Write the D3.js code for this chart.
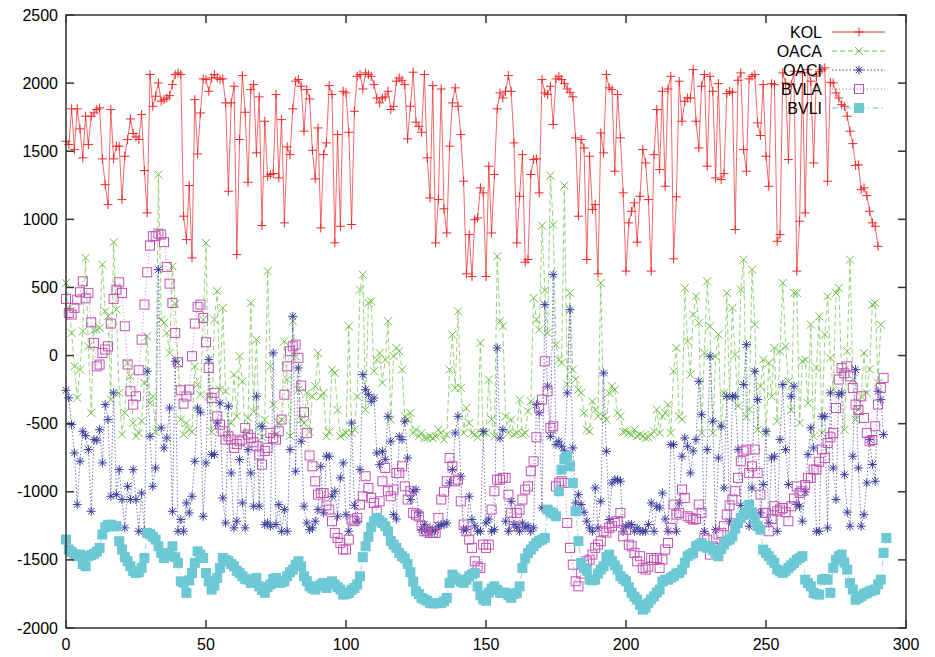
<!DOCTYPE html>
<html>
  <head>
    <meta charset="utf-8">
    <title>Visualization</title>
    <style>
      body { margin: 0; background: #fff; }
      text { font-family: "Liberation Sans", Arial, sans-serif; fill: #000; }
    </style>
  </head>
  <body>
    <div id="chart"></div>
    <script src="https://d3js.org/d3.v7.min.js"></script>
    <script>

      // values, one per x step (x = index)
      var kol = [1573,1549,1811,1512,1811,1664,1451,1757,1549,1757,1781,1806,1818,1444,1255,1108,1806,1444,1537,1537,1145,1463,1586,1737,1630,1605,1586,1769,1358,1047,2063,1830,1904,2001,1867,1879,1891,1908,1989,2063,2075,2063,1023,851,1248,717,1879,1480,1781,
                 2031,2026,1940,2038,2063,2038,2026,2031,1855,1206,1855,1977,741,1586,2055,1786,1272,1952,1989,1488,1899,954,1720,1316,1329,1336,1916,1304,1732,974,1532,1475,1811,2014,2026,1977,1647,1952,1884,1507,1297,1671,937,1475,1561,1982,1916,827,1622,949,1940,1928,1639,
                 962,1793,2050,2063,1957,2075,2063,2050,1989,1891,1855,1891,1899,1940,1806,1830,2014,2038,2021,1989,1591,1830,2080,1713,1683,1639,2063,1451,1157,1982,827,1145,1957,1077,900,1537,1855,1965,1830,1622,1280,600,888,580,998,
                 1010,1231,1194,580,1390,900,1329,1811,1928,1891,1940,2055,1940,1561,827,1169,1475,685,705,1329,1439,1444,1194,2026,1928,1916,1977,1696,2031,2050,2026,1996,1957,1933,1899,1598,1023,1586,1524,705,1463,1072,1108,600,1634,1488,2063,1965,1952,1353,1916,1598,1194,
                 620,974,1059,1121,832,1169,1512,1414,1145,620,1475,1806,1365,1940,1243,1957,2050,710,1165,2014,1720,1867,1891,1891,2099,1720,1524,1977,2063,1390,2050,1940,1304,1996,1292,1336,1923,1940,1933,925,2021,2075,1512,1353,2031,2050,2063,1708,1615,
                 1989,1463,1243,1996,1989,839,888,2075,2001,1439,1989,2087,620,986,2075,1047,2099,2014,1414,2050,2087,2099,2112,1280,2006,2001,1928,1891,1842,1830,1757,1647,1556,1395,1400,1218,1231,1174,1059,974,949,802];

      var oaca = [533,350,166,-79,-311,-103,178,717,68,-421,190,190,203,668,325,288,-323,832,337,-274,-580,-420,-54,-152,-495,-593,-568,-480,-201,142,-350,-299,-560,1329,264,240,166,19,655,380,-54,-470,-580,-495,-544,-560,-79,-213,-287,264,827,
                  -300,-560,264,472,-250,350,-262,-580,-495,-140,-446,-5,-189,-580,-458,386,-409,117,-519,-600,-470,619,-79,-360,-580,-495,-470,105,-176,-590,252,-5,-250,-470,-495,-274,-560,-299,-225,19,-299,-274,-593,-560,-103,-128,-400,-593,-580,
                  -568,215,-568,-544,-300,484,594,-397,386,398,-115,-30,19,-200,-30,252,-470,-5,56,32,-103,-446,-470,-421,-568,-544,-593,-568,-605,-605,-593,-605,-593,-544,-568,-617,-580,-103,154,-238,325,-238,-568,-385,-495,-568,-580,-600,93,-568,
                  -568,-176,-470,-593,729,252,215,-446,-568,-470,-580,-568,-323,-580,-568,-409,-336,423,264,190,954,479,166,1321,960,80,-30,-54,1248,-213,460,-103,-176,-250,-274,-421,-544,-556,-336,-397,-446,533,-446,-470,-274,-225,-250,-421,-446,-560,
                  -556,-568,-580,-544,-590,-580,-593,-605,-600,-580,-556,-397,-568,-446,-421,-360,-568,-115,56,-446,-470,496,105,-140,301,435,240,-568,19,545,215,-568,-5,154,-500,-274,460,-311,350,7,-372,484,704,-450,-397,631,227,-544,-225,-30,
                  -568,-54,-300,56,-482,32,533,68,-189,-400,460,460,-495,-42,-30,-350,227,-593,-91,288,-568,154,435,-17,-250,460,496,-115,-544,32,704,-176,-470,-397,-300,19,-274,-100,374,386,-200,227];

      var oaci = [-255,-311,-507,-715,-1094,-776,-556,-588,-690,-1143,-617,-622,-544,-788,-360,-470,-1033,-274,-1021,-837,-1057,-1265,-960,-1057,-837,-1057,-1290,-1009,-1290,-115,-593,-960,-825,631,-531,-678,-605,-385,-1143,-42,-1290,-1204,-1290,-1082,-1155,-1033,-776,-385,-416,-1180,-788,
                  -30,-727,-727,-495,-348,-1045,-1229,-372,-862,-1265,-1216,-764,-1082,-1265,-690,-862,-1106,-299,-1106,-519,-1241,-1229,-1253,19,-1241,-1094,-1290,-1131,-1290,-690,288,-849,-91,-629,-1106,-1229,-1278,-1265,-1216,-1131,-813,-1155,-739,-739,-1033,-996,-1180,-898,-788,
                  -1168,-1290,-495,-1100,-1216,-837,-140,-250,-287,-336,-311,-715,-801,-703,-764,-446,-629,-1168,-1200,-593,-617,-482,-752,-1057,-996,-984,-1155,-1278,-1241,-1290,-1265,-1290,-1278,-1253,-1241,-1241,-1229,-935,-837,-568,-446,-886,-1278,-1278,-1033,-1204,-1250,-1290,-1290,-556,
                  -1229,-1200,-1290,-1278,56,-605,-544,-1216,-1290,-1070,-1241,-1260,-1290,-1229,-1265,-1250,-1290,-1265,-360,-421,-1119,374,-225,-593,594,-654,-629,-666,-700,-274,337,-678,-1082,-1021,-1094,-1150,-1216,-1265,-1290,-972,-1265,-1070,-128,-703,-1204,-935,-911,-911,-923,-1290,
                  -1253,-1241,-1241,-1290,-1265,-1290,-1290,-1290,-1241,-1082,-1290,-1106,-1119,-1009,-1200,-1290,-654,-654,-1290,-1082,-739,-605,-666,-862,-700,-617,-189,-434,-1290,-690,-5,-482,-1278,-752,-519,-972,-299,-1216,-299,-299,-690,-1100,-213,80,-1253,-972,-115,-323,-1155,-947,
                  -556,-1229,-752,-739,-1290,-617,-213,-690,-947,-299,-225,-1094,-1106,-1216,-1000,-727,-531,-678,-1290,-1290,-446,-446,-1265,-274,-825,-1057,-287,-274,-874,-1150,-1253,-739,-103,-825,-1253,-1168,-935,-617,-800,-923,-262,-323,-580];

      var bvla = [416,313,301,350,411,465,545,420,460,244,93,-79,-66,19,44,68,235,416,484,538,460,215,-66,-262,-360,-299,-108,117,374,611,807,876,876,895,888,832,651,528,386,166,-49,-255,-353,-300,-250,-5,235,357,374,276,98,
                  -91,-311,-274,-446,-507,-556,-617,-593,-617,-678,-650,-629,-617,-531,-580,-605,-637,-666,-727,-801,-700,-678,-568,-605,-617,-556,-470,-287,-79,32,68,80,-17,-221,-416,-568,-734,-813,-923,-1021,-1009,-1009,-1100,-1131,-1216,-1302,-1339,-1376,-1424,
                  -1424,-1351,-1204,-1216,-1192,-1094,-1033,-886,-972,-1045,-1082,-1143,-1070,-923,-825,-996,-1033,-984,-862,-862,-813,-960,-1057,-996,-1155,-1168,-1180,-1250,-1290,-1290,-1302,-1300,-1302,-1192,-1057,-1000,-923,-752,-813,-923,-911,-1070,-1241,-1290,-1351,-1412,-1510,-1547,-1559,-1388,
                  -1412,-1388,-1131,-996,-911,-911,-898,-898,-1021,-1155,-1253,-1155,-1131,-1057,-984,-960,-849,-776,-600,-385,-323,-42,-262,-531,-519,-960,-935,-923,-935,-1229,-1412,-1535,-1657,-1694,-1600,-1535,-1510,-1498,-1461,-1412,-1388,-1363,-1290,-1300,-1265,-1253,-1229,-1216,-1155,-1327,
                  -1278,-1388,-1400,-1449,-1510,-1473,-1559,-1571,-1550,-1486,-1500,-1486,-1559,-1498,-1424,-1376,-1265,-1094,-1168,-1155,-984,-1045,-1180,-1192,-1204,-1200,-1094,-1155,-1339,-1351,-1461,-1400,-1412,-1314,-1302,-1253,-1168,-1100,-1057,-996,-898,-776,-703,-690,-862,-813,-690,-862,-1021,-1155,
                  -1155,-1290,-1200,-1106,-1143,-1131,-1119,-1150,-1216,-1106,-1050,-960,-1009,-996,-950,-898,-898,-837,-837,-780,-690,-752,-642,-600,-568,-385,-176,-91,-130,-79,-152,-238,-360,-400,-299,-458,-568,-629,-620,-519,-360,-238,-164];

      var bvli = [-1351,-1424,-1440,-1460,-1473,-1461,-1530,-1547,-1473,-1465,-1455,-1440,-1412,-1314,-1260,-1245,-1241,-1253,-1253,-1363,-1424,-1480,-1510,-1547,-1583,-1596,-1590,-1559,-1486,-1302,-1310,-1330,-1351,-1400,-1449,-1486,-1470,-1449,-1400,-1480,-1522,-1657,-1669,-1742,-1650,-1596,-1522,-1437,-1461,-1486,-1596,
                  -1657,-1718,-1690,-1632,-1560,-1486,-1500,-1510,-1530,-1547,-1580,-1596,-1620,-1640,-1645,-1669,-1650,-1632,-1694,-1720,-1742,-1700,-1681,-1640,-1632,-1669,-1665,-1657,-1620,-1590,-1571,-1535,-1510,-1547,-1620,-1657,-1694,-1710,-1718,-1694,-1680,-1669,-1706,-1670,-1657,-1681,-1700,-1718,-1755,
                  -1750,-1742,-1720,-1706,-1681,-1620,-1480,-1400,-1330,-1260,-1216,-1192,-1210,-1230,-1253,-1290,-1360,-1388,-1412,-1449,-1473,-1490,-1530,-1590,-1660,-1730,-1750,-1779,-1790,-1800,-1816,-1820,-1816,-1818,-1816,-1804,-1779,-1669,-1608,-1630,-1645,-1660,-1669,-1645,-1620,-1605,-1596,-1694,-1760,-1790,
                  -1800,-1740,-1710,-1694,-1720,-1742,-1740,-1742,-1760,-1779,-1750,-1742,-1694,-1559,-1490,-1450,-1424,-1400,-1376,-1360,-1351,-1339,-1131,-1150,-1160,-1180,-996,-837,-760,-739,-813,-935,-1143,-1363,-1522,-1560,-1580,-1645,-1650,-1645,-1600,-1571,-1547,-1480,-1461,-1510,-1540,-1571,-1620,-1640,
                  -1657,-1700,-1742,-1770,-1792,-1830,-1865,-1850,-1816,-1790,-1767,-1740,-1718,-1660,-1645,-1645,-1630,-1620,-1600,-1596,-1571,-1520,-1473,-1460,-1449,-1400,-1390,-1376,-1400,-1412,-1400,-1430,-1449,-1473,-1420,-1388,-1360,-1351,-1327,-1270,-1229,-1192,-1170,-1155,-1094,-1150,-1204,-1253,-1278,-1424,
                  -1449,-1473,-1500,-1522,-1571,-1585,-1596,-1580,-1559,-1540,-1522,-1500,-1486,-1473,-1645,-1670,-1694,-1742,-1750,-1755,-1645,-1640,-1645,-1742,-1559,-1500,-1473,-1461,-1520,-1571,-1669,-1718,-1792,-1780,-1767,-1750,-1742,-1730,-1725,-1718,-1680,-1645,-1449,-1339];

      var xticks = [0, 50, 100, 150, 200, 250, 300];
      var yticks = [-2000, -1500, -1000, -500, 0, 500, 1000, 1500, 2000, 2500];

      var series = [
        { name: "KOL",  values: kol,  color: "#ec2a2a", dash: null,        mark: "plus" },
        { name: "OACA", values: oaca, color: "#6cc044", dash: "5,3",       mark: "cross" },
        { name: "OACI", values: oaci, color: "#3a3f9e", dash: "1.5,2",     mark: "star" },
        { name: "BVLA", values: bvla, color: "#c054b4", dash: "1,2.5",     mark: "box" },
        { name: "BVLI", values: bvli, color: "#6cc8d4", dash: "6,3,1.5,3", mark: "fbox" }
      ];

      var W = 935, H = 657;
      var plot = { left: 66, right: 906, top: 15, bottom: 628 };

      var svg = d3.select("#chart").append("svg")
                  .attr("width", W).attr("height", H);

      var x = d3.scaleLinear().domain([0, 300]).range([plot.left, plot.right]);
      var y = d3.scaleLinear().domain([-2000, 2500]).range([plot.bottom, plot.top]);

      var markPath = {
        plus:  "M-4.5,0H4.5M0,-4.5V4.5",
        cross: "M-4,-4L4,4M-4,4L4,-4",
        star:  "M-4.5,0H4.5M0,-4.5V4.5M-3.3,-3.3L3.3,3.3M-3.3,3.3L3.3,-3.3"
      };

      function drawMark(g, s, cx, cy) {
        if (s.mark == "box") {
          g.append("rect").attr("x", cx - 4.5).attr("y", cy - 4.5).attr("width", 9).attr("height", 9)
            .attr("fill", "none").attr("stroke", s.color).attr("stroke-width", 1);
        } else if (s.mark == "fbox") {
          g.append("rect").attr("x", cx - 5).attr("y", cy - 5).attr("width", 10).attr("height", 10)
            .attr("fill", s.color).attr("stroke", "none");
        } else {
          g.append("path").attr("d", markPath[s.mark])
            .attr("transform", "translate(" + cx + "," + cy + ")")
            .attr("fill", "none").attr("stroke", s.color).attr("stroke-width", 1);
        }
      }

      var line = d3.line()
                   .x(function(d, i) { return x(i); })
                   .y(function(d) { return y(d); });

      series.forEach(function(s) {
        var g = svg.append("g").attr("class", "series");
        g.append("path")
          .attr("d", line(s.values))
          .attr("fill", "none")
          .attr("stroke", s.color)
          .attr("stroke-opacity", 0.7)
          .attr("stroke-width", 1)
          .attr("stroke-dasharray", s.dash);
        s.values.forEach(function(v, i) { drawMark(g, s, x(i), y(v)); });
      });

      // frame and ticks (gnuplot style, ticks inward on all sides)
      var axisColor = "#333";
      svg.append("rect")
        .attr("x", plot.left).attr("y", plot.top)
        .attr("width", plot.right - plot.left).attr("height", plot.bottom - plot.top)
        .attr("fill", "none").attr("stroke", axisColor).attr("stroke-width", 1.5);

      var tk = svg.append("g").attr("stroke", axisColor).attr("stroke-width", 1.5);
      yticks.forEach(function(t) {
        tk.append("line").attr("x1", plot.left).attr("x2", plot.left + 8).attr("y1", y(t)).attr("y2", y(t));
        tk.append("line").attr("x1", plot.right).attr("x2", plot.right - 8).attr("y1", y(t)).attr("y2", y(t));
      });
      xticks.forEach(function(t) {
        tk.append("line").attr("x1", x(t)).attr("x2", x(t)).attr("y1", plot.bottom).attr("y2", plot.bottom - 8);
        tk.append("line").attr("x1", x(t)).attr("x2", x(t)).attr("y1", plot.top).attr("y2", plot.top + 8);
      });

      svg.append("g").selectAll("text").data(yticks).enter().append("text")
        .attr("x", plot.left - 8).attr("y", function(d) { return y(d); })
        .attr("dy", "0.35em").attr("text-anchor", "end")
        .style("font-size", "16px")
        .text(function(d) { return d; });

      svg.append("g").selectAll("text").data(xticks).enter().append("text")
        .attr("x", function(d) { return x(d); }).attr("y", plot.bottom + 22)
        .attr("text-anchor", "middle")
        .style("font-size", "16px")
        .text(function(d) { return d; });

      // legend
      var lg = svg.append("g").attr("class", "legend");
      series.forEach(function(s, i) {
        var ly = 32 + i * 19;
        lg.append("text").attr("x", 822).attr("y", ly).attr("dy", "0.35em")
          .attr("text-anchor", "end").style("font-size", "16px").text(s.name);
        lg.append("line").attr("x1", 832).attr("x2", 885).attr("y1", ly).attr("y2", ly)
          .attr("stroke", s.color).attr("stroke-width", 1).attr("stroke-dasharray", s.dash);
        drawMark(lg, s, 859, ly);
      });

    </script>
  </body>
</html>
